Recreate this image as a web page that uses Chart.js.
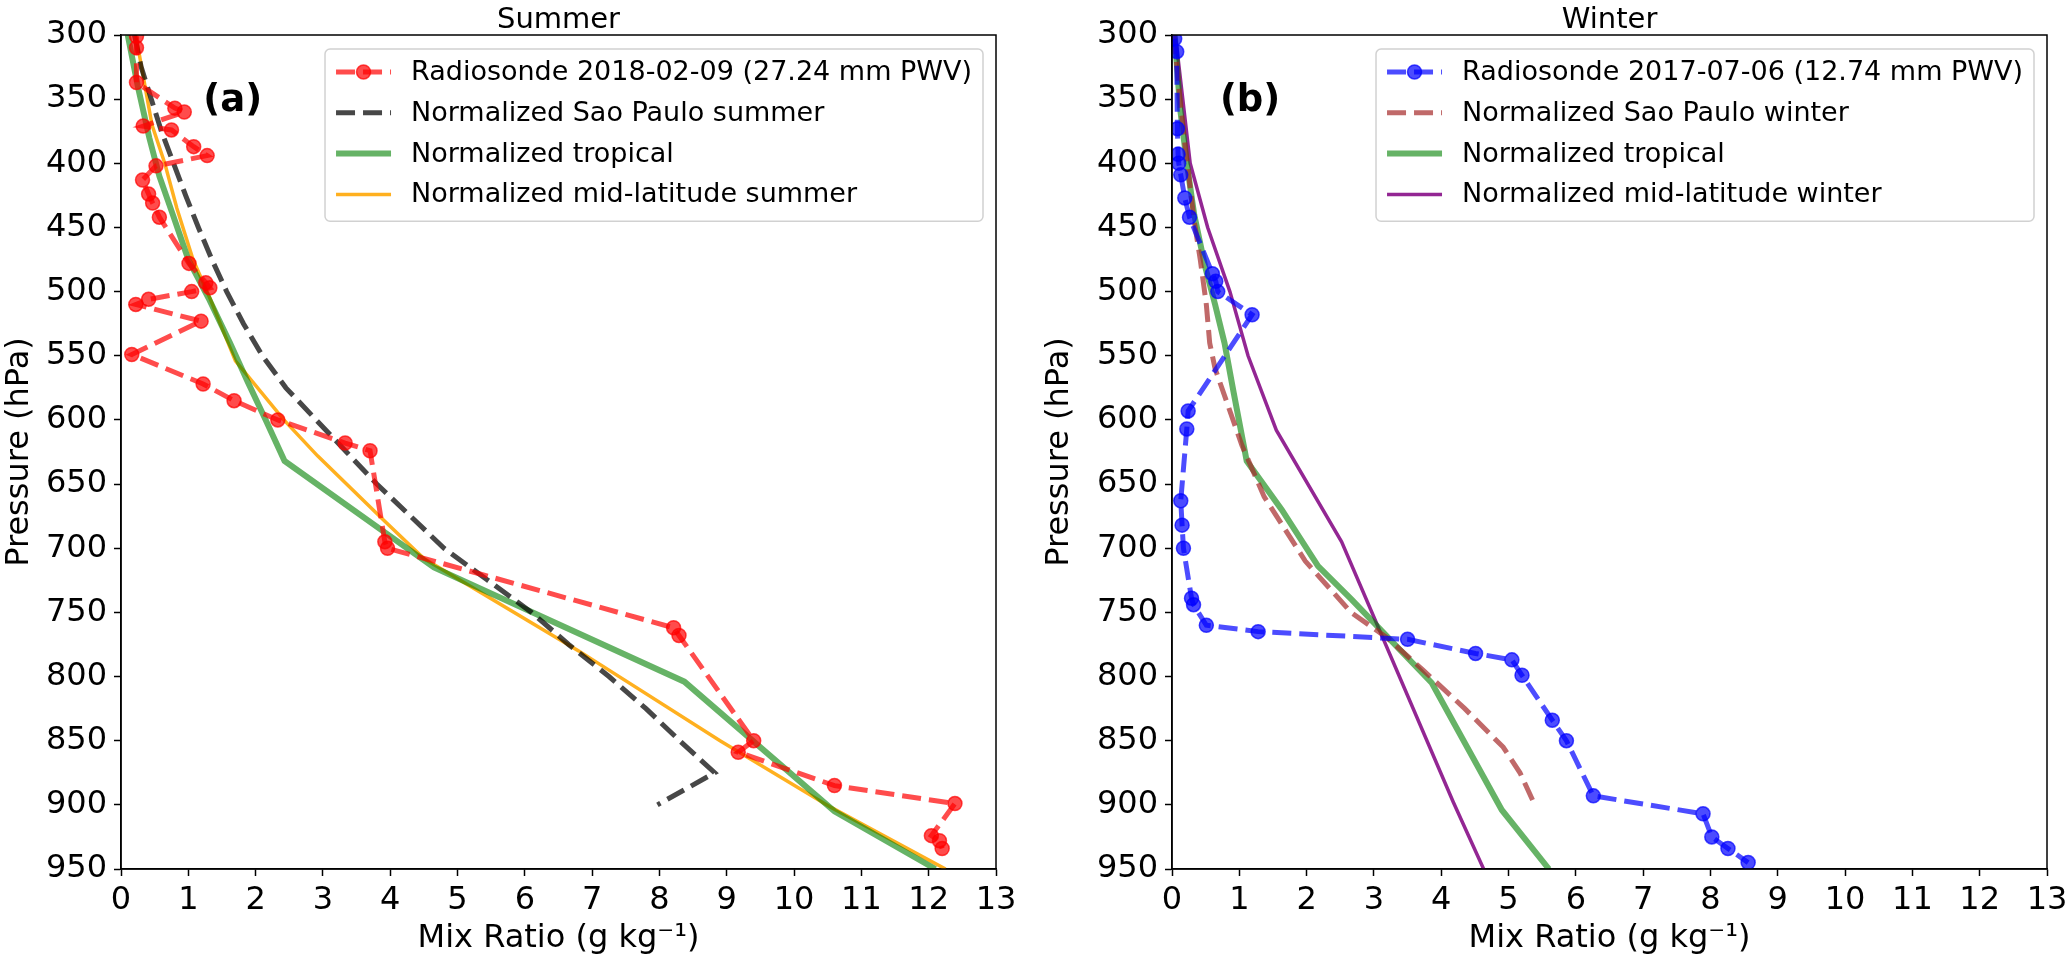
<!DOCTYPE html>
<html>
<head>
<meta charset="utf-8">
<script src="https://cdn.jsdelivr.net/npm/chart.js@4.4.0/dist/chart.umd.min.js"></script>
<style>
  html, body { margin: 0; padding: 0; background: #fff; }
  #wrap { position: relative; width: 2067px; height: 958px; overflow: hidden; }
  #wrap canvas { position: absolute; top: 0; }
</style>
</head>
<body>
<div id="wrap">
  <canvas id="summerChart" width="1040" height="958" style="left:0px"></canvas>
  <canvas id="winterChart" width="1027" height="958" style="left:1040px"></canvas>
</div>
<script>
// axis ticks
const mixTicks = [0, 1, 2, 3, 4, 5, 6, 7, 8, 9, 10, 11, 12, 13];
const pressureTicks = [300, 350, 400, 450, 500, 550, 600, 650, 700, 750, 800, 850, 900, 950];

// summer panel (a)
const summerSondeQ = [0.23, 0.23, 0.23, 0.80, 0.94, 0.33, 0.75, 1.08, 1.28, 0.52, 0.32, 0.41, 0.47, 0.57, 1.01, 1.26, 1.32, 1.05, 0.41, 0.22, 1.19, 0.16, 1.22, 1.68, 2.33, 3.33, 3.70, 3.92, 3.96, 8.21, 8.29, 9.40, 9.17, 10.6, 12.39, 12.04, 12.16, 12.2];
const summerSondeP = [301, 310, 337, 357, 360, 371, 374, 387, 394, 402, 413, 424, 431, 442, 478, 493, 497, 500, 506, 510, 523, 549, 572, 585, 600, 618, 624, 695, 700, 762, 768, 850, 859, 885, 899, 924, 928, 934];

const spSummerQ = [0.2, 0.3, 0.45, 0.6, 0.78, 0.96, 1.15, 1.35, 1.57, 1.82, 2.1, 2.45, 2.9, 3.35, 3.8, 4.3, 4.8, 5.45, 6.1, 6.65, 7.25, 7.8, 8.3, 8.82, 7.97];
const spSummerP = [300, 325, 350, 375, 400, 425, 450, 475, 500, 525, 550, 575, 600, 625, 650, 675, 700, 725, 750, 775, 800, 825, 850, 875, 900];

const tropSummerQ = [0.1, 0.25, 0.42, 0.57, 0.77, 1.0, 1.3, 1.62, 1.88, 2.15, 2.43, 4.65, 8.37, 10.6, 12.1];
const tropSummerP = [300, 340, 380, 410, 440, 475, 505, 540, 570, 600, 632, 715, 804, 905, 950];

const mlsQ = [0.22, 0.46, 0.65, 0.83, 1.07, 1.32, 1.70, 2.42, 2.92, 3.9, 4.5, 6.8, 8.9, 10.55, 12.25];
const mlsP = [300, 370, 400, 435, 475, 505, 554, 600, 628, 678, 708, 780, 850, 902, 950];

// winter panel (b)
const winterSondeQ = [0.04, 0.07, 0.08, 0.09, 0.10, 0.13, 0.19, 0.26, 0.60, 0.65, 0.68, 1.19, 0.24, 0.22, 0.13, 0.15, 0.17, 0.29, 0.32, 0.51, 1.28, 3.50, 4.51, 5.05, 5.20, 5.65, 5.86, 6.26, 7.89, 8.02, 8.26, 8.56];
const winterSondeP = [303, 313, 373, 393, 400, 409, 427, 442, 486, 492, 500, 518, 593, 607, 663, 682, 700, 739, 744, 760, 765, 771, 782, 787, 799, 834, 850, 893, 907, 925, 934, 945];

const spWinterQ = [0.03, 0.1, 0.18, 0.25, 0.33, 0.42, 0.51, 0.56, 0.64, 0.84, 1.04, 1.37, 1.98, 2.66, 3.2, 3.73, 4.35, 4.92, 5.17, 5.39];
const spWinterP = [300, 340, 380, 410, 445, 475, 510, 540, 560, 590, 620, 660, 710, 750, 770, 795, 825, 855, 875, 900];

const tropWinterQ = [0.04, 0.12, 0.22, 0.33, 0.49, 0.64, 0.78, 0.91, 1.11, 1.63, 2.17, 2.67, 3.86, 4.9, 5.6];
const tropWinterP = [300, 357, 400, 440, 480, 510, 540, 577, 632, 670, 714, 740, 805, 904, 950];

const mlwQ = [0.05, 0.27, 0.53, 0.86, 1.13, 1.55, 2.52, 4.18, 4.63];
const mlwP = [300, 400, 450, 500, 550, 608, 695, 898, 950];

const FONT = "'DejaVu Sans', 'Liberation Sans', sans-serif";

function pts(q, p) {
  return q.map((v, i) => ({ x: v, y: p[i] }));
}

function lineSet(label, q, p, color, width, dash, marker) {
  return {
    label,
    data: pts(q, p),
    showLine: true,
    borderColor: color,
    backgroundColor: color,
    borderWidth: width,
    borderDash: dash || [],
    pointRadius: marker ? 7 : 0,
    pointBorderWidth: 1.5,
    pointBorderColor: color,
    pointBackgroundColor: color,
    tension: 0,
  };
}

// frame, title, panel tag and legend drawn on top of the chart
const panelDecor = {
  id: 'panelDecor',
  afterDraw(chart, args, opts) {
    const { ctx, chartArea: a } = chart;
    ctx.save();

    ctx.strokeStyle = '#000';
    ctx.lineWidth = 1.5;
    ctx.strokeRect(a.left, a.top, a.right - a.left, a.bottom - a.top);

    ctx.fillStyle = '#000';
    ctx.font = `29px ${FONT}`;
    ctx.textAlign = 'center';
    ctx.textBaseline = 'alphabetic';
    ctx.fillText(opts.title, (a.left + a.right) / 2, a.top - 7);

    ctx.font = `bold 37px ${FONT}`;
    ctx.textBaseline = 'middle';
    ctx.fillText(opts.tag, chart.scales.x.getPixelForValue(opts.tagAt[0]), chart.scales.y.getPixelForValue(opts.tagAt[1]));

    // legend, upper right
    const fs = 27, pad = 11, handle = 55, gap = 20, rowH = 40.8;
    ctx.font = `${fs}px ${FONT}`;
    const sets = chart.data.datasets;
    const textW = Math.max(...sets.map(d => ctx.measureText(d.label).width));
    const boxW = pad + handle + gap + textW + pad;
    const boxH = sets.length * rowH + 9;
    const bx = a.right - 13 - boxW;
    const by = a.top + 14;
    ctx.beginPath();
    ctx.roundRect(bx, by, boxW, boxH, 5);
    ctx.fillStyle = 'rgba(255,255,255,0.85)';
    ctx.fill();
    ctx.strokeStyle = 'rgba(204,204,204,0.9)';
    ctx.lineWidth = 1.5;
    ctx.stroke();

    sets.forEach((d, i) => {
      const cy = by + 23 + i * rowH;
      const hx = bx + pad;
      ctx.beginPath();
      ctx.setLineDash(d.borderDash);
      ctx.strokeStyle = d.borderColor;
      ctx.lineWidth = d.borderWidth;
      ctx.moveTo(hx, cy);
      ctx.lineTo(hx + handle, cy);
      ctx.stroke();
      ctx.setLineDash([]);
      if (d.pointRadius > 0) {
        ctx.beginPath();
        ctx.arc(hx + handle / 2, cy, d.pointRadius, 0, Math.PI * 2);
        ctx.fillStyle = d.pointBackgroundColor;
        ctx.fill();
        ctx.lineWidth = 1.5;
        ctx.strokeStyle = d.pointBorderColor;
        ctx.stroke();
      }
      ctx.fillStyle = '#000';
      ctx.textAlign = 'left';
      ctx.textBaseline = 'middle';
      ctx.fillText(d.label, hx + handle + gap, cy + 1);
    });

    ctx.restore();
  },
};

function makePanel(canvasId, datasets, axisW, padRight, decor) {
  const tickFont = { family: FONT, size: 32 };
  return new Chart(document.getElementById(canvasId), {
    type: 'scatter',
    data: { datasets },
    options: {
      responsive: false,
      devicePixelRatio: 1,
      animation: false,
      layout: { padding: { top: 35, right: padRight, bottom: 0, left: 0 } },
      plugins: {
        legend: { display: false },
        tooltip: { enabled: false },
        panelDecor: decor,
      },
      scales: {
        x: {
          type: 'linear',
          min: 0,
          max: 13,
          afterBuildTicks: (s) => { s.ticks = mixTicks.map(v => ({ value: v })); },
          afterFit: (s) => { s.height = 89; s.paddingLeft = 0; s.paddingRight = 0; },
          grid: { drawOnChartArea: false, drawTicks: true, tickLength: 7, tickWidth: 1.5, tickColor: '#000' },
          border: { display: true, color: '#000', width: 1.5 },
          ticks: { font: tickFont, color: '#000', padding: 5, maxRotation: 0, autoSkip: false },
          title: { display: true, text: 'Mix Ratio (g kg\u207B\u00B9)', font: tickFont, color: '#000', padding: 0 },
        },
        y: {
          type: 'linear',
          reverse: true,
          min: 300,
          max: 950,
          afterBuildTicks: (s) => { s.ticks = pressureTicks.map(v => ({ value: v })); },
          afterFit: (s) => { s.width = axisW; s.paddingTop = 0; s.paddingBottom = 0; },
          grid: { drawOnChartArea: false, drawTicks: true, tickLength: 7, tickWidth: 1.5, tickColor: '#000' },
          border: { display: true, color: '#000', width: 1.5 },
          ticks: { font: tickFont, color: '#000', padding: 7, autoSkip: false },
          title: { display: true, text: 'Pressure (hPa)', font: tickFont, color: '#000', padding: 0 },
        },
      },
    },
    plugins: [panelDecor],
  });
}

makePanel('summerChart', [
  lineSet('Radiosonde 2018-02-09 (27.24 mm PWV)', summerSondeQ, summerSondeP, 'rgba(255,0,0,0.7)', 5, [19, 8], true),
  lineSet('Normalized Sao Paulo summer', spSummerQ, spSummerP, 'rgba(0,0,0,0.72)', 5, [19, 8], false),
  lineSet('Normalized tropical', tropSummerQ, tropSummerP, 'rgba(0,128,0,0.6)', 6, null, false),
  lineSet('Normalized mid-latitude summer', mlsQ, mlsP, 'rgba(255,165,0,0.88)', 3.5, null, false),
], 121, 44, { title: 'Summer', tag: '(a)', tagAt: [1.66, 352] });

makePanel('winterChart', [
  lineSet('Radiosonde 2017-07-06 (12.74 mm PWV)', winterSondeQ, winterSondeP, 'rgba(0,0,255,0.7)', 5, [19, 8], true),
  lineSet('Normalized Sao Paulo winter', spWinterQ, spWinterP, 'rgba(165,42,42,0.7)', 5, [19, 8], false),
  lineSet('Normalized tropical', tropWinterQ, tropWinterP, 'rgba(0,128,0,0.6)', 6, null, false),
  lineSet('Normalized mid-latitude winter', mlwQ, mlwP, 'rgba(128,0,128,0.85)', 3.5, null, false),
], 132, 20, { title: 'Winter', tag: '(b)', tagAt: [1.16, 352] });
</script>
</body>
</html>
